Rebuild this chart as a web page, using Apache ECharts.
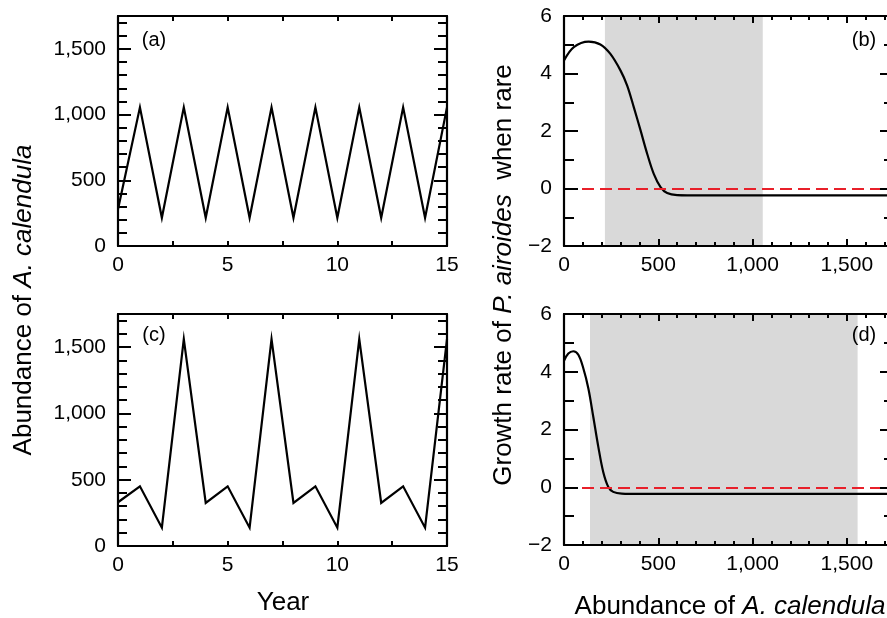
<!DOCTYPE html>
<html lang="en">
<head>
<meta charset="UTF-8">
<title>calendula</title>
<script src="https://cdn.jsdelivr.net/npm/echarts@6/dist/echarts.min.js"></script>
<style>html,body{margin:0;padding:0;background:#fff}</style>
</head>
<body>
<div id="main" style="width:887px;height:618px"></div>
<script>
    // (a) and (c): abundance of A. calendula by year
    years=[0,1,2,3,4,5,6,7,8,9,10,11,12,13,14,15]
    abundA=[280,1055,215,1055,215,1055,215,1055,215,1055,215,1055,215,1055,215,1055]
    abundC=[330,450,138,1560,325,450,138,1560,325,450,138,1560,325,450,138,1560]

    // (b) and (d): growth rate of P. airoides when rare vs abundance
    abB=[0,52,131,193,246,300,335,370,406,441,476,512,547,600,724,1750]
    grB=[4.45,4.92,5.11,5.01,4.68,4.10,3.58,2.83,2.02,1.21,0.51,0.05,-0.16,-0.23,-0.24,-0.24]
    abD=[0,23,49,76,102,129,155,182,208,235,261,306,400,1750]
    grD=[4.38,4.63,4.71,4.59,4.13,3.43,2.45,1.40,0.53,0.01,-0.16,-0.22,-0.23,-0.23]

    // shaded range = range of abundance seen in (a) / (c)
    rangeB=[217,1054]
    rangeD=[138,1557]

    FONT='"Liberation Sans", Arial, Helvetica, sans-serif'

    fmt=v=>v<0?'\u2212'+Math.abs(v):v.toLocaleString('en-US')

    // main axis (line, labels, long ticks) + an overlay axis for the short ticks, on both sides
    mkAxes=(dim,grid,min,max,major,minor,majLen,minLen)=>{
        let pos=dim=='x'?['bottom','top']:['left','right']
        let out=[]
        pos.forEach((p,k)=>{
            out.push({type:'value',gridIndex:grid,position:p,min,max,interval:major,z:10,
                axisLine:{show:true,onZero:false,lineStyle:{color:'#000',width:2.2}},
                axisTick:{show:true,inside:true,length:majLen,lineStyle:{color:'#000',width:2}},
                axisLabel:{show:k==0,margin:dim=='x'?9:12,color:'#000',fontSize:21,fontFamily:FONT,
                    formatter:v=>v%major==0?fmt(v):''},
                splitLine:{show:false}})
            out.push({type:'value',gridIndex:grid,position:p,min,max,interval:minor,z:10,
                axisLine:{show:false,onZero:false},
                axisTick:{show:true,inside:true,length:minLen,lineStyle:{color:'#000',width:2}},
                axisLabel:{show:false},splitLine:{show:false}})
        })
        return out
    }

    xAxes=[].concat(
        mkAxes('x',0,0,15,5,2.5,5,5),
        mkAxes('x',1,0,1750,500,100,7,4),
        mkAxes('x',2,0,15,5,2.5,5,5),
        mkAxes('x',3,0,1750,500,100,7,4))
    yAxes=[].concat(
        mkAxes('y',0,0,1750,500,100,13,9),
        mkAxes('y',1,-2,6,2,1,14,10),
        mkAxes('y',2,0,1750,500,100,13,9),
        mkAxes('y',3,-2,6,2,1,14,10))

    zip=(a,b)=>a.map((v,i)=>[v,b[i]])

    timeSeries=(g,ys)=>({type:'line',xAxisIndex:4*g,yAxisIndex:4*g,data:zip(years,ys),
        symbol:'none',lineStyle:{color:'#000',width:2.2,join:'miter',miterLimit:10}})

    rateSeries=(g,xs,ys,range)=>({type:'line',xAxisIndex:4*g,yAxisIndex:4*g,data:zip(xs,ys),
        symbol:'none',smooth:0.35,lineStyle:{color:'#000',width:2.2},
        markArea:{silent:true,itemStyle:{color:'#d9d9d9'},data:[[{xAxis:range[0]},{xAxis:range[1]}]]},
        markLine:{silent:true,symbol:'none',label:{show:false},
            lineStyle:{color:'#e8202a',width:2,type:[12,6]},data:[{yAxis:0}]}})

    tx=(x,y,text,rot)=>({type:'text',x,y,rotation:rot||0,z:20,
        style:{text,align:'center',verticalAlign:'middle',textAlign:'center',textVerticalAlign:'middle',
            fill:'#000',font:'20px '+FONT,
            rich:{p:{fontSize:20,fontFamily:FONT,fill:'#000'},
                n:{fontSize:26,fontFamily:FONT,fill:'#000'},
                i:{fontSize:26,fontFamily:FONT,fontStyle:'italic',fill:'#000'}}}})

    let option={
        backgroundColor:'#fff',
        animation:false,
        grid:[
            {left:118,top:16,width:329,height:230,outerBoundsMode:'none'},
            {left:564,top:16,width:330,height:230,outerBoundsMode:'none'},
            {left:118,top:314,width:329,height:232,outerBoundsMode:'none'},
            {left:564,top:314,width:330,height:231,outerBoundsMode:'none'}
        ],
        xAxis:xAxes,
        yAxis:yAxes,
        series:[
            timeSeries(0,abundA),
            rateSeries(1,abB,grB,rangeB),
            timeSeries(2,abundC),
            rateSeries(3,abD,grD,rangeD)
        ],
        graphic:[
            tx(154,40,'{p|(a)}'),
            tx(864,40,'{p|(b)}'),
            tx(154,335,'{p|(c)}'),
            tx(864,335,'{p|(d)}'),
            tx(24,300,'{n|Abundance of }{i|A. calendula}',Math.PI/2),
            tx(504,275,'{n|Growth rate of }{i|P. airoides}{n|  when rare}',Math.PI/2),
            tx(283,603,'{n|Year}'),
            tx(730,607,'{n|Abundance of }{i|A. calendula}')
        ]
    }

    var myChart=echarts.init(document.getElementById('main'))
    myChart.setOption(option)
</script>
</body>
</html>
